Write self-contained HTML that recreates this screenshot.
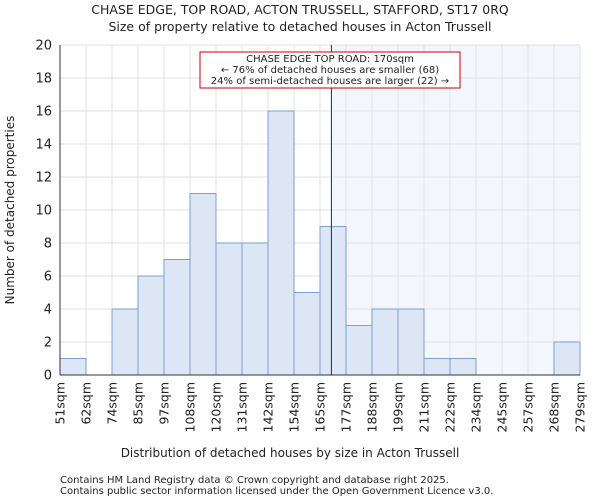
<!DOCTYPE html>
<html><head><meta charset="utf-8"><style>
body{margin:0;background:#fff;font-family:"DejaVu Sans","Liberation Sans",sans-serif;}
svg text{font-family:"DejaVu Sans","Liberation Sans",sans-serif;fill:#222;}
</style></head><body>
<svg id="c" width="600" height="500" viewBox="0 0 600 500">
<text x="300" y="14" text-anchor="middle" font-size="12.5">CHASE EDGE, TOP ROAD, ACTON TRUSSELL, STAFFORD, ST17 0RQ</text>
<text x="300" y="31" text-anchor="middle" font-size="12.5">Size of property relative to detached houses in Acton Trussell</text>
<g id="plot"></g>
<text x="290" y="457" text-anchor="middle" font-size="12">Distribution of detached houses by size in Acton Trussell</text>
<text transform="translate(14,210) rotate(-90)" text-anchor="middle" font-size="12">Number of detached properties</text>
<text x="60" y="483" font-size="10" fill="#555">Contains HM Land Registry data © Crown copyright and database right 2025.</text>
<text x="60" y="494" font-size="10" fill="#555">Contains public sector information licensed under the Open Government Licence v3.0.</text>
</svg>
<script>
const categories=["51sqm","62sqm","74sqm","85sqm","97sqm","108sqm","120sqm","131sqm","142sqm","154sqm","165sqm","177sqm","188sqm","199sqm","211sqm","222sqm","234sqm","245sqm","257sqm","268sqm","279sqm"];
const counts=[1,0,4,6,7,11,8,8,16,5,9,3,4,4,1,1,0,0,0,2];
const yTicks=[0,2,4,6,8,10,12,14,16,18,20];
const markerValue=170;
const binStart=51, binWidth=11.4;
const X0=60,X1=580,Y0=375,Y1=45,yMax=20;
const n=counts.length;
const xs=i=>X0+(X1-X0)*i/n;
const ys=v=>Y0-(Y0-Y1)*v/yMax;
const xv=v=>X0+(X1-X0)*(v-binStart)/(binWidth*n);
const NS="http://www.w3.org/2000/svg";
const g=document.getElementById('plot');
function mk(t,a){const e=document.createElementNS(NS,t);for(const k in a)e.setAttribute(k,a[k]);g.appendChild(e);return e;}
const mx=xv(markerValue);
let e=mk('rect',{x:mx,y:Y1,width:X1-mx,height:Y0-Y1,fill:'#f3f6fd'});


yTicks.forEach(t=>{
 let l=mk('line',{x1:X0,x2:X1,y1:ys(t),y2:ys(t),stroke:'#e2e2e2'});
 
 
 let tx=mk('text',{x:X0-8,y:ys(t)+4.5,'text-anchor':'end','font-size':'13'});
 tx.textContent=t;
 
 
});
for(let i=0;i<=n;i++){
 let l=mk('line',{x1:xs(i),x2:xs(i),y1:Y1,y2:Y0,stroke:'#e2e2e2'});
 
 
}
counts.forEach((c,i)=>{
 if(c<=0)return;
 let r=mk('rect',{x:xs(i),y:ys(c),width:xs(i+1)-xs(i),height:Y0-ys(c),fill:'#dce6f5',stroke:'#7b9fd3','stroke-width':1});
 
 
});
categories.forEach((c,i)=>{
 let x=xs(i);
 let tx=mk('text',{transform:`translate(${x+4.5},382) rotate(-90)`,'text-anchor':'end','font-size':'12.5'});
 tx.textContent=c;
 
 
});
let ax=mk('line',{x1:X0,x2:X0,y1:Y1,y2:Y0,stroke:'#333'});


let ax2=mk('line',{x1:X0,x2:X1,y1:Y0,y2:Y0,stroke:'#333'});


let ml=mk('line',{x1:mx,x2:mx,y1:Y1,y2:Y0,stroke:'#1a2a6c','stroke-width':1});


let bx=mk('rect',{x:200,y:52,width:260,height:36,fill:'#fff',stroke:'#c00','stroke-width':1});


["CHASE EDGE TOP ROAD: 170sqm","← 76% of detached houses are smaller (68)","24% of semi-detached houses are larger (22) →"].forEach((s,i)=>{
 let t=mk('text',{x:330,y:62+i*11,'text-anchor':'middle','font-size':'10'});
 t.textContent=s;
 
 
});
</script>
</body></html>
